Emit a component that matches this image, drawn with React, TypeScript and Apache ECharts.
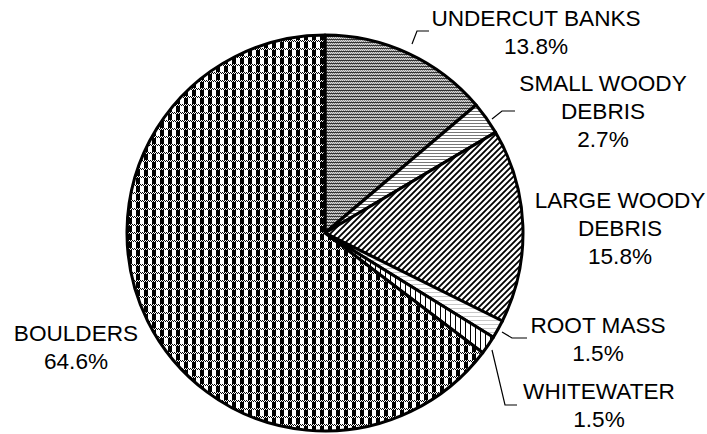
import { useEffect, useRef } from "react";
import * as echarts from "echarts";

// ---- data ----
const categories = [
  "UNDERCUT BANKS",
  "SMALL WOODY\nDEBRIS",
  "LARGE WOODY\nDEBRIS",
  "ROOT MASS",
  "WHITEWATER",
  "BOULDERS",
];
const percentValues = [13.8, 2.7, 15.8, 1.5, 1.5, 64.6];

// ---- presentation (label placement, leader lines) ----
const labelPlacement: { x: number; y: number; line: number[][] | null }[] = [
  { x: 536, y: 32, line: [[412, 44], [417, 31], [429, 31]] },
  { x: 603, y: 111, line: [[492, 119], [502, 111], [515, 111]] },
  { x: 620, y: 228, line: null },
  { x: 598, y: 339, line: [[502, 332], [512, 338], [527, 338]] },
  { x: 599, y: 405, line: [[492, 350], [505, 405], [517, 405]] },
  { x: 76, y: 347, line: null },
];

type Ctx = CanvasRenderingContext2D;

function makeTile(w: number, h: number, draw: (ctx: Ctx) => void) {
  const c = document.createElement("canvas");
  c.width = w;
  c.height = h;
  const ctx = c.getContext("2d") as Ctx;
  ctx.fillStyle = "#ffffff";
  ctx.fillRect(0, 0, w, h);
  draw(ctx);
  return {
    image: c.toDataURL(),
    imageWidth: w,
    imageHeight: h,
    repeat: "repeat",
  };
}

function px(ctx: Ctx, x: number, y: number, w: number, h: number, col: string) {
  ctx.fillStyle = col;
  ctx.fillRect(x, y, w, h);
}

function buildPatterns() {
  const undercut = makeTile(2, 3, (ctx) => {
    px(ctx, 0, 0, 2, 1, "#333333");
    px(ctx, 0, 1, 1, 1, "#8a8a8a");
    px(ctx, 1, 1, 1, 1, "#d8d8d8");
    px(ctx, 0, 2, 1, 1, "#d8d8d8");
    px(ctx, 1, 2, 1, 1, "#8a8a8a");
  });
  const smallWoody = makeTile(1, 3, (ctx) => {
    px(ctx, 0, 0, 1, 1, "#777777");
  });
  const largeWoody = makeTile(6, 6, (ctx) => {
    ctx.strokeStyle = "#000000";
    ctx.lineWidth = 1.8;
    ctx.beginPath();
    ctx.moveTo(-1, 7);
    ctx.lineTo(7, -1);
    ctx.moveTo(-4, 4);
    ctx.lineTo(4, -4);
    ctx.moveTo(2, 10);
    ctx.lineTo(10, 2);
    ctx.stroke();
  });
  const rootMass = makeTile(1, 4, (ctx) => {
    px(ctx, 0, 0, 1, 1, "#c8c8c8");
  });
  const whitewater = makeTile(5, 1, (ctx) => {
    px(ctx, 0, 0, 1, 1, "#000000");
  });
  const boulders = makeTile(8, 8, (ctx) => {
    for (let x = 0; x < 8; x++) {
      px(ctx, x, 0, 1, 1, x % 2 === 0 ? "#000000" : "#ffffff");
      px(ctx, x, 1, 1, 1, x % 2 === 1 ? "#000000" : "#ffffff");
    }
    px(ctx, 0, 2, 4, 6, "#000000");
  });
  return [undercut, smallWoody, largeWoody, rootMass, whitewater, boulders];
}

export default function App() {
  const ref = useRef<HTMLDivElement>(null);

  useEffect(() => {
    if (!ref.current) return;
    const chart = echarts.init(ref.current, null, { renderer: "svg" });
    const patterns = buildPatterns();

    const data = categories.map((name, i) => ({
      name,
      value: percentValues[i],
      itemStyle: { color: patterns[i] as any },
      labelLine: { show: labelPlacement[i].line !== null },
    }));

    chart.setOption({
      animation: false,
      backgroundColor: "#ffffff",
      series: [
        {
          type: "pie",
          center: [325, 233],
          radius: 198,
          startAngle: 90,
          clockwise: true,
          silent: true,
          avoidLabelOverlap: false,
          emphasis: { disabled: true },
          itemStyle: { borderColor: "#000000", borderWidth: 3 },
          label: {
            show: true,
            position: "outside",
            color: "#000000",
            fontFamily: "'Liberation Sans', Arial, sans-serif",
            fontSize: 22.6,
            lineHeight: 28,
            align: "center",
            formatter: (p: any) => `${p.name}\n${Number(p.value).toFixed(1)}%`,
          },
          labelLine: {
            show: true,
            length: 10,
            length2: 10,
            lineStyle: { color: "#000000", width: 1.2 },
          },
          labelLayout: (p: any) => {
            const lp = labelPlacement[p.dataIndex];
            const out: any = {
              x: lp.x,
              y: lp.y,
              align: "center",
              verticalAlign: "middle",
            };
            if (lp.line) out.labelLinePoints = lp.line;
            return out;
          },
          data,
        },
      ],
    });

    return () => chart.dispose();
  }, []);

  return (
    <div
      ref={ref}
      style={{ position: "fixed", left: 0, top: 0, width: 707, height: 434 }}
    />
  );
}
